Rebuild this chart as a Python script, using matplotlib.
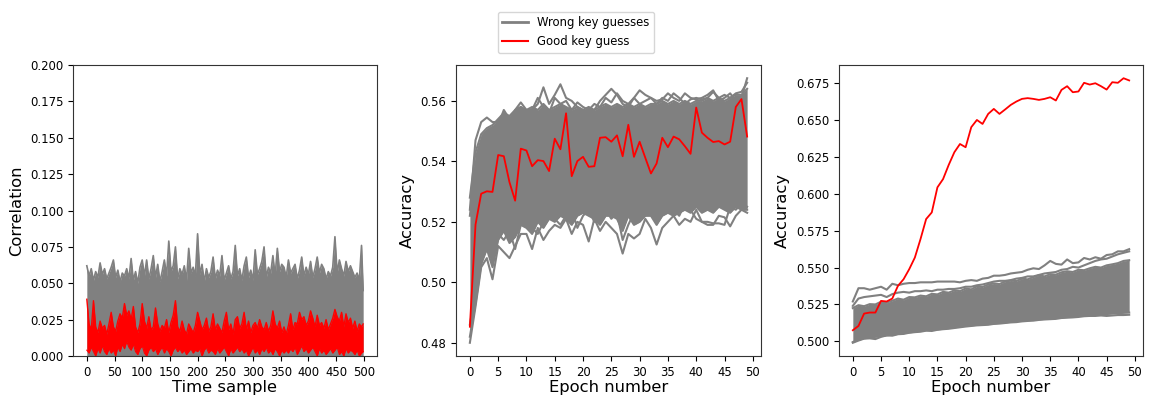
import numpy as np
import matplotlib
matplotlib.use("Agg")
import matplotlib.pyplot as plt
from matplotlib.lines import Line2D

# ---------------- data ----------------
time_samples = np.append(np.arange(0, 500, 4), 499)

# upper envelope of the wrong-key correlation traces (band goes down to 0)
corr_wrong_top = [
    0.062, 0.055, 0.060, 0.052, 0.058, 0.054, 0.064, 0.056, 0.060, 0.053,
    0.057, 0.061, 0.066, 0.054, 0.059, 0.051, 0.057, 0.055, 0.060, 0.053,
    0.067, 0.052, 0.058, 0.050, 0.061, 0.066, 0.055, 0.066, 0.053, 0.060,
    0.069, 0.054, 0.063, 0.051, 0.058, 0.066, 0.055, 0.079, 0.058, 0.062,
    0.075, 0.053, 0.060, 0.056, 0.062, 0.052, 0.074, 0.057, 0.061, 0.055,
    0.084, 0.056, 0.063, 0.051, 0.060, 0.054, 0.058, 0.068, 0.053, 0.059,
    0.055, 0.069, 0.052, 0.057, 0.062, 0.053, 0.058, 0.076, 0.055, 0.060,
    0.052, 0.062, 0.068, 0.054, 0.059, 0.052, 0.073, 0.056, 0.060, 0.065,
    0.075, 0.054, 0.061, 0.057, 0.069, 0.055, 0.074, 0.058, 0.063, 0.061,
    0.054, 0.066, 0.057, 0.060, 0.063, 0.053, 0.059, 0.068, 0.055, 0.061,
    0.056, 0.065, 0.054, 0.060, 0.068, 0.057, 0.063, 0.060, 0.053, 0.058,
    0.055, 0.061, 0.082, 0.057, 0.066, 0.060, 0.055, 0.065, 0.058, 0.062,
    0.058, 0.054, 0.057, 0.052, 0.076, 0.045,
]

# good-key correlation: local maxima / minima of the dense trace
corr_good_high = [
    0.039, 0.022, 0.018, 0.038, 0.020, 0.016, 0.024, 0.019, 0.021, 0.015,
    0.022, 0.030, 0.020, 0.017, 0.024, 0.029, 0.026, 0.036, 0.028, 0.031,
    0.025, 0.034, 0.020, 0.016, 0.022, 0.036, 0.024, 0.019, 0.027, 0.018,
    0.020, 0.033, 0.022, 0.017, 0.021, 0.019, 0.025, 0.016, 0.023, 0.028,
    0.038, 0.020, 0.017, 0.024, 0.018, 0.015, 0.022, 0.019, 0.016, 0.021,
    0.030, 0.024, 0.018, 0.021, 0.026, 0.017, 0.020, 0.029, 0.018, 0.022,
    0.019, 0.016, 0.024, 0.030, 0.018, 0.022, 0.015, 0.025, 0.027, 0.019,
    0.022, 0.030, 0.018, 0.024, 0.016, 0.021, 0.023, 0.019, 0.025, 0.020,
    0.018, 0.023, 0.017, 0.021, 0.031, 0.022, 0.019, 0.024, 0.016, 0.020,
    0.015, 0.021, 0.029, 0.018, 0.023, 0.022, 0.030, 0.025, 0.027, 0.021,
    0.024, 0.031, 0.026, 0.020, 0.028, 0.021, 0.023, 0.019, 0.025, 0.018,
    0.022, 0.026, 0.032, 0.027, 0.024, 0.030, 0.020, 0.029, 0.023, 0.026,
    0.019, 0.024, 0.017, 0.022, 0.020, 0.022,
]
corr_good_low = [
    0.004, 0.002, 0.006, 0.003, 0.000, 0.005, 0.002, 0.007, 0.003, 0.001,
    0.005, 0.002, 0.004, 0.000, 0.006, 0.003, 0.008, 0.005, 0.010, 0.006,
    0.004, 0.008, 0.003, 0.001, 0.005, 0.007, 0.002, 0.000, 0.004, 0.006,
    0.003, 0.005, 0.001, 0.004, 0.006, 0.002, 0.005, 0.003, 0.000, 0.004,
    0.006, 0.003, 0.005, 0.002, 0.004, 0.001, 0.003, 0.005, 0.002, 0.004,
    0.003, 0.005, 0.000, 0.004, 0.006, 0.002, 0.004, 0.003, 0.001, 0.005,
    0.002, 0.004, 0.006, 0.003, 0.000, 0.005, 0.002, 0.004, 0.006, 0.003,
    0.005, 0.002, 0.004, 0.000, 0.003, 0.006, 0.002, 0.004, 0.001, 0.005,
    0.003, 0.006, 0.002, 0.004, 0.001, 0.005, 0.003, 0.000, 0.004, 0.002,
    0.004, 0.002, 0.005, 0.003, 0.006, 0.001, 0.004, 0.007, 0.003, 0.005,
    0.002, 0.004, 0.006, 0.003, 0.000, 0.005, 0.002, 0.004, 0.001, 0.003,
    0.005, 0.002, 0.004, 0.006, 0.001, 0.003, 0.000, 0.005, 0.002, 0.004,
    0.003, 0.001, 0.004, 0.000, 0.002, 0.003,
]

epochs = np.arange(50)

# middle panel: band of wrong-key accuracies
mid_wrong_low = [
    0.482, 0.493, 0.506, 0.511, 0.505, 0.514, 0.517, 0.513, 0.515, 0.519,
    0.518, 0.516, 0.520, 0.518, 0.521, 0.520, 0.522, 0.521, 0.519, 0.522,
    0.523, 0.522, 0.521, 0.519, 0.522, 0.522, 0.521, 0.517, 0.522, 0.519,
    0.520, 0.522, 0.522, 0.519, 0.522, 0.523, 0.522, 0.523, 0.524, 0.523,
    0.525, 0.523, 0.524, 0.523, 0.525, 0.524, 0.523, 0.525, 0.524, 0.524,
]
mid_wrong_high = [
    0.528, 0.543, 0.549, 0.551, 0.552, 0.554, 0.556, 0.555, 0.557, 0.558,
    0.557, 0.558, 0.557, 0.559, 0.557, 0.558, 0.559, 0.558, 0.557, 0.558,
    0.557, 0.558, 0.557, 0.558, 0.559, 0.558, 0.559, 0.558, 0.559, 0.558,
    0.559, 0.558, 0.559, 0.559, 0.560, 0.559, 0.560, 0.559, 0.560, 0.559,
    0.560, 0.560, 0.561, 0.560, 0.561, 0.560, 0.561, 0.562, 0.562, 0.564,
]
mid_wrong_a = [
    0.524, 0.547, 0.553, 0.5545, 0.553, 0.553, 0.556, 0.552, 0.557, 0.5595,
    0.557, 0.557, 0.559, 0.5645, 0.559, 0.562, 0.5655, 0.561, 0.560, 0.558,
    0.557, 0.556, 0.557, 0.560, 0.562, 0.564, 0.562, 0.559, 0.558, 0.561,
    0.5635, 0.562, 0.561, 0.560, 0.5605, 0.5625, 0.561, 0.560, 0.5625, 0.561,
    0.5605, 0.561, 0.562, 0.5635, 0.560, 0.561, 0.5625, 0.560, 0.561, 0.5675,
]
mid_wrong_b = [
    0.480, 0.492, 0.505, 0.508, 0.501, 0.512, 0.510, 0.508, 0.512, 0.516,
    0.516, 0.511, 0.518, 0.514, 0.517, 0.519, 0.518, 0.521, 0.516, 0.520,
    0.519, 0.5135, 0.521, 0.517, 0.520, 0.518, 0.516, 0.5095, 0.516, 0.5145,
    0.516, 0.521, 0.518, 0.5125, 0.518, 0.520, 0.522, 0.519, 0.521, 0.520,
    0.524, 0.520, 0.519, 0.519, 0.522, 0.5215, 0.5185, 0.522, 0.524, 0.523,
]
mid_wrong_c = [
    0.486, 0.497, 0.510, 0.512, 0.509, 0.516, 0.514, 0.517, 0.511, 0.519,
    0.521, 0.518, 0.516, 0.520, 0.523, 0.521, 0.519, 0.522, 0.524, 0.518,
    0.522, 0.524, 0.520, 0.523, 0.524, 0.521, 0.523, 0.514, 0.519, 0.523,
    0.524, 0.522, 0.524, 0.521, 0.525, 0.523, 0.524, 0.522, 0.526, 0.524,
    0.521, 0.520, 0.520, 0.5195, 0.5195, 0.519, 0.525, 0.524, 0.526, 0.525,
]
mid_wrong_d = [
    0.522, 0.538, 0.542, 0.548, 0.551, 0.552, 0.557, 0.554, 0.556, 0.558,
    0.555, 0.557, 0.561, 0.558, 0.556, 0.561, 0.559, 0.560, 0.557, 0.5595,
    0.558, 0.557, 0.559, 0.558, 0.561, 0.5595, 0.5625, 0.560, 0.559, 0.561,
    0.559, 0.560, 0.561, 0.559, 0.561, 0.560, 0.5625, 0.561, 0.559, 0.5605,
    0.561, 0.5605, 0.561, 0.563, 0.561, 0.562, 0.561, 0.5625, 0.563, 0.566,
]
mid_good = [
    0.4853, 0.5191, 0.5293, 0.5301, 0.5299, 0.5421, 0.5417, 0.5331, 0.5270, 0.5442,
    0.5436, 0.5384, 0.5404, 0.5401, 0.5368, 0.5475, 0.5440, 0.5559, 0.5351, 0.5401,
    0.5415, 0.5382, 0.5384, 0.5478, 0.5480, 0.5465, 0.5486, 0.5417, 0.5521, 0.5415,
    0.5465, 0.5412, 0.5360, 0.5393, 0.5478, 0.5447, 0.5482, 0.5473, 0.5450, 0.5425,
    0.5578, 0.5495, 0.5478, 0.5464, 0.5467, 0.5456, 0.5465, 0.5580, 0.5606, 0.5482,
]

# right panel
right_wrong_low = [
    0.4995, 0.5010, 0.5020, 0.5025, 0.5030, 0.5035, 0.5040, 0.5045, 0.5050, 0.5055,
    0.5060, 0.5065, 0.5070, 0.5075, 0.5078, 0.5080, 0.5085, 0.5090, 0.5095, 0.5100,
    0.5105, 0.5108, 0.5112, 0.5115, 0.5118, 0.5120, 0.5125, 0.5128, 0.5132, 0.5136,
    0.5140, 0.5143, 0.5146, 0.5149, 0.5152, 0.5155, 0.5158, 0.5161, 0.5165, 0.5168,
    0.5172, 0.5175, 0.5178, 0.5180, 0.5183, 0.5185, 0.5188, 0.5190, 0.5193, 0.5195,
]
right_wrong_high = [
    0.5225, 0.5245, 0.5238, 0.5252, 0.5250, 0.5268, 0.5262, 0.5275, 0.5290, 0.5282,
    0.5300, 0.5298, 0.5310, 0.5305, 0.5322, 0.5318, 0.5335, 0.5330, 0.5345, 0.5340,
    0.5358, 0.5352, 0.5372, 0.5368, 0.5385, 0.5392, 0.5388, 0.5405, 0.5412, 0.5408,
    0.5425, 0.5420, 0.5435, 0.5448, 0.5440, 0.5455, 0.5452, 0.5468, 0.5475, 0.5470,
    0.5485, 0.5482, 0.5495, 0.5505, 0.5500, 0.5515, 0.5522, 0.5530, 0.5545, 0.5550,
]
right_wrong_e = [
    0.527, 0.536, 0.536, 0.535, 0.536, 0.537, 0.535, 0.539, 0.538, 0.539,
    0.5395, 0.5395, 0.540, 0.540, 0.540, 0.5405, 0.5405, 0.5405, 0.5405, 0.540,
    0.541, 0.5415, 0.541, 0.5425, 0.543, 0.5445, 0.5445, 0.545, 0.546, 0.5465,
    0.547, 0.5485, 0.5495, 0.549, 0.5515, 0.5545, 0.5525, 0.552, 0.5555, 0.553,
    0.5535, 0.5565, 0.5555, 0.557, 0.556, 0.5585, 0.559, 0.561, 0.561, 0.5625,
]
right_wrong_f = [
    0.524, 0.529, 0.530, 0.5305, 0.531, 0.5315, 0.530, 0.532, 0.533, 0.5335,
    0.533, 0.534, 0.534, 0.5345, 0.534, 0.535, 0.535, 0.5355, 0.5355, 0.536,
    0.537, 0.537, 0.538, 0.5385, 0.5395, 0.5405, 0.541, 0.541, 0.5415, 0.5425,
    0.543, 0.544, 0.544, 0.545, 0.546, 0.5465, 0.547, 0.5485, 0.549, 0.5505,
    0.550, 0.5515, 0.553, 0.5545, 0.5555, 0.556, 0.5575, 0.559, 0.560, 0.561,
]
right_wrong_g = [
    0.4990, 0.5005, 0.5018, 0.5020, 0.5015, 0.5030, 0.5040, 0.5038, 0.5048, 0.5050,
    0.5058, 0.5062, 0.5065, 0.5072, 0.5070, 0.5078, 0.5082, 0.5085, 0.5090, 0.5095,
    0.5100, 0.5104, 0.5108, 0.5110, 0.5112, 0.5118, 0.5120, 0.5124, 0.5128, 0.5130,
    0.5135, 0.5138, 0.5140, 0.5145, 0.5148, 0.5150, 0.5152, 0.5158, 0.5160, 0.5162,
    0.5165, 0.5170, 0.5172, 0.5172, 0.5175, 0.5172, 0.5175, 0.5178, 0.5178, 0.5180,
]
right_good = [
    0.5075, 0.5104, 0.5188, 0.5195, 0.5195, 0.5274, 0.5270, 0.5290, 0.5376, 0.5421,
    0.5489, 0.5568, 0.5693, 0.5829, 0.5874, 0.6044, 0.6100, 0.6196, 0.6282, 0.6338,
    0.6316, 0.6452, 0.6501, 0.6474, 0.6542, 0.6576, 0.6542, 0.6572, 0.6603, 0.6626,
    0.6644, 0.6649, 0.6644, 0.6637, 0.6644, 0.6655, 0.6633, 0.6705, 0.6730, 0.6689,
    0.6694, 0.6753, 0.6741, 0.6750, 0.6730, 0.6707, 0.6757, 0.6753, 0.6784, 0.6769,
]

legend_labels = ["Wrong key guesses", "Good key guess"]

# ---------------- styling ----------------
GRAY = "#808080"
RED = "#ff0000"
TICK_FS = 8.4
LABEL_FS = 11.8

fig = plt.figure(figsize=(11.52, 3.96), dpi=100)
ax_l = fig.add_axes([73 / 1152, 1 - 356 / 396, 304 / 1152, 291 / 396])
ax_m = fig.add_axes([456 / 1152, 1 - 356 / 396, 305 / 1152, 291 / 396])
ax_r = fig.add_axes([839 / 1152, 1 - 356 / 396, 304 / 1152, 291 / 396])

# left panel
ax_l.fill_between(time_samples, 0, corr_wrong_top, color=GRAY, lw=0)
ax_l.plot(time_samples, corr_wrong_top, color=GRAY, lw=1.2)
ax_l.fill_between(time_samples, corr_good_low, corr_good_high, color=RED, lw=0)
ax_l.plot(time_samples, corr_good_high, color=RED, lw=1.0)
ax_l.plot(time_samples, corr_good_low, color=RED, lw=0.8)
ax_l.set_ylim(0, 0.2)
ax_l.set_xlim(-24.95, 523.95)
ax_l.set_xticks(np.arange(0, 501, 50))
ax_l.set_yticks(np.arange(0, 0.2001, 0.025))
ax_l.yaxis.set_major_formatter(matplotlib.ticker.FormatStrFormatter("%.3f"))
ax_l.set_xlabel("Time sample", fontsize=LABEL_FS, labelpad=1)
ax_l.set_ylabel("Correlation", fontsize=LABEL_FS, labelpad=4)

# middle panel
ax_m.fill_between(epochs, mid_wrong_low, mid_wrong_high, color=GRAY, lw=0)
for s in (mid_wrong_low, mid_wrong_high, mid_wrong_a, mid_wrong_b, mid_wrong_c, mid_wrong_d):
    ax_m.plot(epochs, s, color=GRAY, lw=1.5)
ax_m.plot(epochs, mid_good, color=RED, lw=1.3)
ax_m.set_xticks(np.arange(0, 51, 5))
ax_m.set_yticks([0.48, 0.50, 0.52, 0.54, 0.56])
ax_m.yaxis.set_major_formatter(matplotlib.ticker.FormatStrFormatter("%.2f"))
ax_m.set_xlabel("Epoch number", fontsize=LABEL_FS, labelpad=1)
ax_m.set_ylabel("Accuracy", fontsize=LABEL_FS, labelpad=4)

# right panel
ax_r.fill_between(epochs, right_wrong_low, right_wrong_high, color=GRAY, lw=0)
for s in (right_wrong_low, right_wrong_high, right_wrong_e, right_wrong_f, right_wrong_g):
    ax_r.plot(epochs, s, color=GRAY, lw=1.5)
ax_r.plot(epochs, right_good, color=RED, lw=1.3)
ax_r.set_xticks(np.arange(0, 51, 5))
ax_r.set_yticks(np.arange(0.5, 0.6751, 0.025))
ax_r.yaxis.set_major_formatter(matplotlib.ticker.FormatStrFormatter("%.3f"))
ax_r.set_xlabel("Epoch number", fontsize=LABEL_FS, labelpad=1)
ax_r.set_ylabel("Accuracy", fontsize=LABEL_FS, labelpad=4)

for ax in (ax_l, ax_m, ax_r):
    ax.tick_params(labelsize=TICK_FS, length=3.5, width=0.8)
    for sp in ax.spines.values():
        sp.set_color("#333333")
        sp.set_linewidth(0.8)

handles = [Line2D([0], [0], color=GRAY, lw=2), Line2D([0], [0], color=RED, lw=1.5)]
fig.legend(handles, legend_labels, loc="upper center", bbox_to_anchor=(0.5, 0.985),
           fontsize=8.4, frameon=True, handlelength=2.2)

fig.savefig("out.png", dpi=100)
